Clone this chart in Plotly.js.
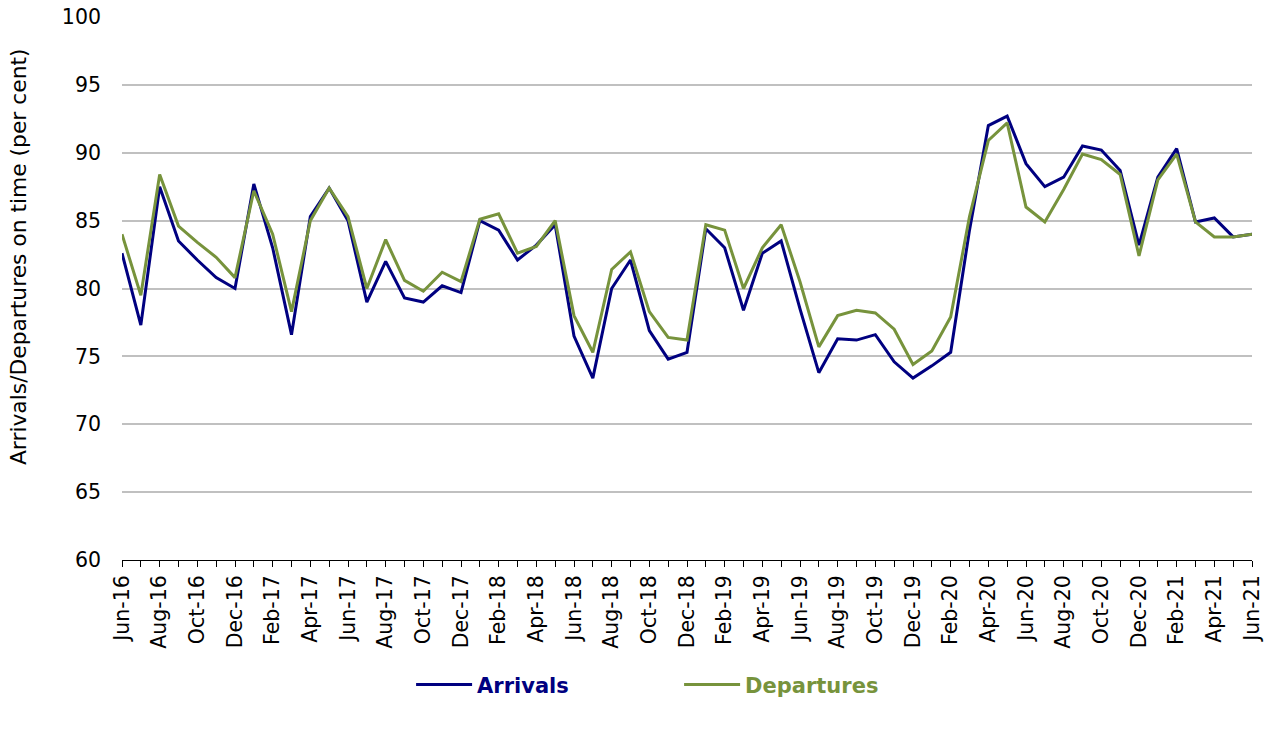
<!DOCTYPE html>
<html>
<head>
<meta charset="utf-8">
<script src="https://cdn.plot.ly/plotly-3.0.1.min.js"></script>
<style>html,body{margin:0;padding:0;background:#fff;}#chart{width:1272px;height:729px;}</style>
</head>
<body>
<div id="chart"></div>
<script>
const months = ["Jun-16","Jul-16","Aug-16","Sep-16","Oct-16","Nov-16","Dec-16",
"Jan-17","Feb-17","Mar-17","Apr-17","May-17","Jun-17","Jul-17","Aug-17","Sep-17","Oct-17","Nov-17","Dec-17",
"Jan-18","Feb-18","Mar-18","Apr-18","May-18","Jun-18","Jul-18","Aug-18","Sep-18","Oct-18","Nov-18","Dec-18",
"Jan-19","Feb-19","Mar-19","Apr-19","May-19","Jun-19","Jul-19","Aug-19","Sep-19","Oct-19","Nov-19","Dec-19",
"Jan-20","Feb-20","Mar-20","Apr-20","May-20","Jun-20","Jul-20","Aug-20","Sep-20","Oct-20","Nov-20","Dec-20",
"Jan-21","Feb-21","Mar-21","Apr-21","May-21","Jun-21"];

const arrivals = [82.6,77.3,87.5,83.5,82.1,80.8,80.0,
87.7,83.0,76.6,85.3,87.4,85.0,79.0,82.0,79.3,79.0,80.2,79.7,
85.0,84.3,82.1,83.2,84.7,76.5,73.4,80.0,82.1,76.9,74.8,75.3,
84.4,83.0,78.4,82.6,83.5,78.5,73.8,76.3,76.2,76.6,74.6,73.4,
74.3,75.3,84.3,92.0,92.7,89.2,87.5,88.2,90.5,90.2,88.7,83.2,
88.2,90.3,84.9,85.2,83.8,84.0];

const departures = [84.0,79.5,88.4,84.6,83.4,82.3,80.8,
87.2,84.0,78.3,85.0,87.4,85.3,80.0,83.6,80.6,79.8,81.2,80.5,
85.1,85.5,82.6,83.1,85.0,78.0,75.3,81.4,82.7,78.3,76.4,76.2,
84.7,84.3,80.0,83.0,84.7,80.5,75.7,78.0,78.4,78.2,77.0,74.4,
75.4,77.9,85.3,90.9,92.2,86.0,84.9,87.3,89.9,89.5,88.4,82.4,
88.0,89.9,84.9,83.8,83.8,84.0];

const yTicks = [60,65,70,75,80,85,90,95,100];
const xTickText = months.map((m,i) => i % 2 === 0 ? m : "");
const yTitle = "Arrivals/Departures on time (per cent)";

const FONT = "DejaVu Sans, Verdana, sans-serif";

const traces = [
  {x: months, y: arrivals, type: "scatter", mode: "lines",
   name: '<span style="color:#000080"><b>Arrivals</b></span>',
   line: {color: "#000080", width: 3}},
  {x: months, y: departures, type: "scatter", mode: "lines",
   name: '<span style="color:#77933C"><b>Departures</b></span>',
   line: {color: "#77933C", width: 3}}
];

const layout = {
  width: 1272, height: 729,
  margin: {l: 122, r: 20, t: 17, b: 169},
  paper_bgcolor: "#fff", plot_bgcolor: "#fff",
  font: {family: FONT, color: "#000"},
  showlegend: true,
  legend: {orientation: "h", x: 0.493, xanchor: "center", y: -0.23, yanchor: "middle",
           font: {family: FONT, size: 21}, itemwidth: 56, entrywidth: 197, traceorder: "normal"},
  xaxis: {type: "category", range: [0, months.length - 1],
          tickmode: "array", tickvals: months, ticktext: xTickText,
          tickangle: -90, tickfont: {family: FONT, size: 20.5},
          showline: true, linecolor: "#000", linewidth: 1,
          ticks: "outside", ticklen: 6, tickcolor: "#000", tickwidth: 1,
          showgrid: false, zeroline: false, fixedrange: true},
  yaxis: {range: [60, 100], tickmode: "array", tickvals: yTicks,
          tickfont: {family: FONT, size: 20.5},
          showgrid: true, gridcolor: "#c0c0c0", gridwidth: 2,
          showline: false, zeroline: false, ticks: "", ticklabelstandoff: 20, fixedrange: true},
  annotations: [{text: yTitle, textangle: -90, xref: "paper", yref: "paper",
                 x: -0.092, y: 0.558, xanchor: "center", yanchor: "middle",
                 showarrow: false, font: {family: FONT, size: 21.8, color: "#000"}}]
};

Plotly.newPlot("chart", traces, layout, {displayModeBar: false, staticPlot: true});
</script>
</body>
</html>
